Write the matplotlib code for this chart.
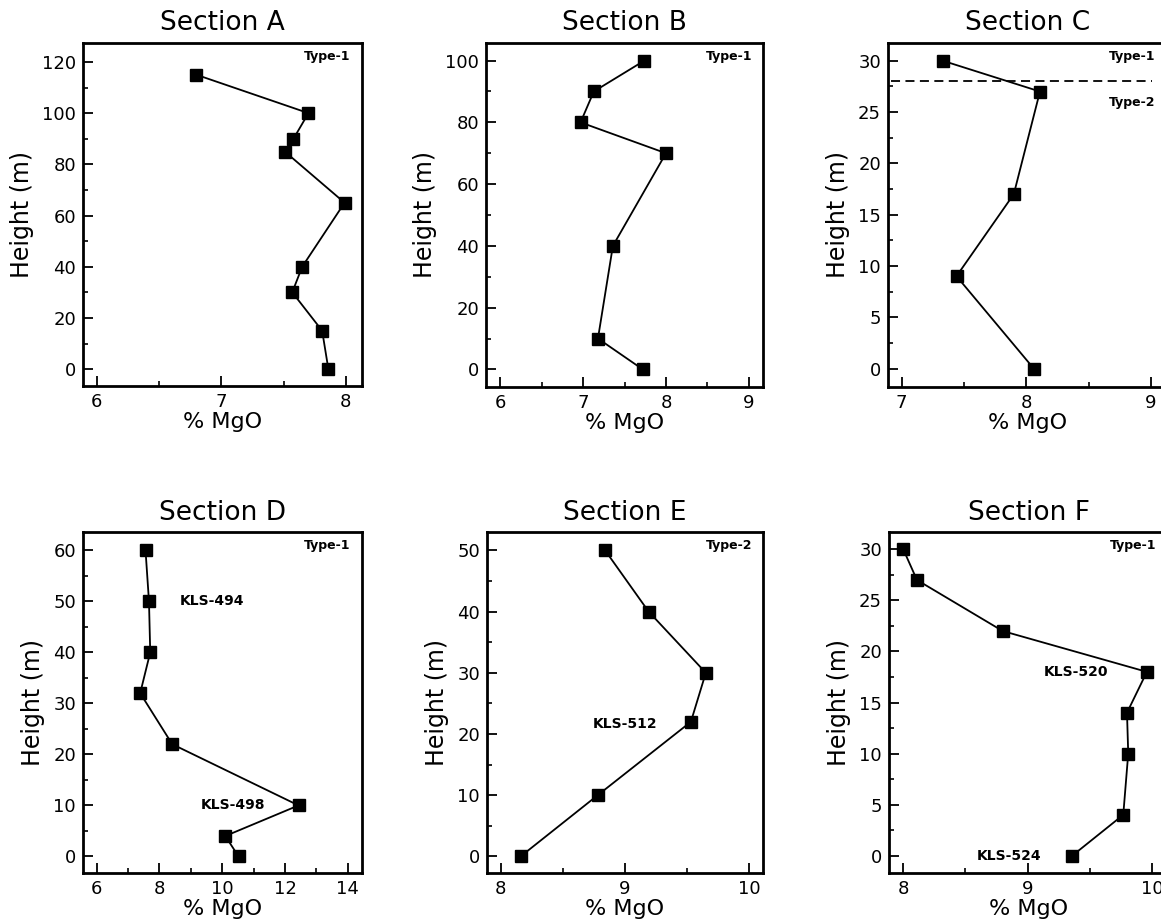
import matplotlib
matplotlib.use("Agg")
import matplotlib.pyplot as plt
from matplotlib.ticker import MultipleLocator

plt.rcParams['font.family'] = ['DejaVu Sans']

# ---- data (x = % MgO, y = height in m) ----
a_mgo = [6.80, 7.70, 7.58, 7.51, 7.99, 7.65, 7.57, 7.81, 7.86]
a_h = [115, 100, 90, 85, 65, 40, 30, 15, 0]

b_mgo = [7.74, 7.13, 6.97, 8.00, 7.36, 7.18, 7.72]
b_h = [100, 90, 80, 70, 40, 10, 0]

c_mgo = [7.33, 8.11, 7.90, 7.44, 8.06]
c_h = [30, 27, 17, 9, 0]
c_boundary = 28

d_mgo = [7.56, 7.67, 7.71, 7.39, 8.41, 12.43, 10.10, 10.52]
d_h = [60, 50, 40, 32, 22, 10, 4, 0]

e_mgo = [8.84, 9.19, 9.65, 9.53, 8.78, 8.16]
e_h = [50, 40, 30, 22, 10, 0]

f_mgo = [8.00, 8.11, 8.80, 9.96, 9.80, 9.81, 9.77, 9.36]
f_h = [30, 27, 22, 18, 14, 10, 4, 0]

titles = ["Section A", "Section B", "Section C", "Section D", "Section E", "Section F"]
type_labels = ["Type-1", "Type-1", "Type-1", "Type-1", "Type-2", "Type-1"]

W, H = 1161, 921
fig = plt.figure(figsize=(W / 100, H / 100), dpi=100)


def box(l, r, t, b):
    return [l / W, (H - b) / H, (r - l) / W, (b - t) / H]


panels = [
    dict(rect=box(83, 362, 43, 386), x=a_mgo, y=a_h, xlim=(5.89, 8.13), ylim=(-6.6, 127.4),
         xmaj=1, xmin=0.5, ymaj=20, ymin=10),
    dict(rect=box(486, 763, 43, 387), x=b_mgo, y=b_h, xlim=(5.83, 9.17), ylim=(-5.7, 105.7),
         xmaj=1, xmin=0.5, ymaj=20, ymin=10),
    dict(rect=box(888, 1167, 43, 387), x=c_mgo, y=c_h, xlim=(6.89, 9.13), ylim=(-1.8, 31.73),
         xmaj=1, xmin=0.5, ymaj=5, ymin=2.5),
    dict(rect=box(83, 362, 532, 873), x=d_mgo, y=d_h, xlim=(5.57, 14.45), ylim=(-3.25, 63.6),
         xmaj=2, xmin=1, ymaj=10, ymin=5),
    dict(rect=box(487, 763, 532, 873), x=e_mgo, y=e_h, xlim=(7.89, 10.11), ylim=(-2.7, 53.0),
         xmaj=1, xmin=0.5, ymaj=10, ymin=5),
    dict(rect=box(889, 1168, 532, 873), x=f_mgo, y=f_h, xlim=(7.885, 10.13), ylim=(-1.7, 31.7),
         xmaj=1, xmin=0.5, ymaj=5, ymin=2.5),
]

axes = []
for i, p in enumerate(panels):
    ax = fig.add_axes(p["rect"])
    axes.append(ax)
    ax.plot(p["x"], p["y"], color="black", lw=1.3, marker="s", ms=8.5,
            mfc="black", mec="black", clip_on=False, zorder=3)
    ax.set_xlim(*p["xlim"])
    ax.set_ylim(*p["ylim"])
    ax.xaxis.set_major_locator(MultipleLocator(p["xmaj"]))
    ax.xaxis.set_minor_locator(MultipleLocator(p["xmin"]))
    ax.yaxis.set_major_locator(MultipleLocator(p["ymaj"]))
    ax.yaxis.set_minor_locator(MultipleLocator(p["ymin"]))
    ax.tick_params(which="major", direction="in", length=7, width=1.3, labelsize=13, pad=5)
    ax.tick_params(which="minor", direction="in", length=3.5, width=1.2)
    for s in ax.spines.values():
        s.set_linewidth(2.0)
    ax.set_title(titles[i], fontsize=19, pad=9)
    ax.set_ylabel("Height (m)", fontsize=17, labelpad=6)
    ax.set_xlabel("% MgO", fontsize=16, labelpad=1)
    ax.text(0.96, 0.96, type_labels[i], transform=ax.transAxes, ha="right", va="center",
            fontsize=9, fontweight="bold")

# Section C: boundary between Type-1 and Type-2
axC = axes[2]
axC.axhline(c_boundary, xmin=0.01, xmax=0.946, color="black", lw=1.3, ls=(0, (5, 3)))
axC.text(0.957, 0.827, "Type-2", transform=axC.transAxes, ha="right", va="center",
         fontsize=9, fontweight="bold")

# sample labels
axes[3].text(8.65, 50, "KLS-494", fontsize=10, fontweight="bold", va="center", ha="left")
axes[3].text(9.32, 10, "KLS-498", fontsize=10, fontweight="bold", va="center", ha="left")
axes[4].text(8.74, 21.7, "KLS-512", fontsize=10, fontweight="bold", va="center", ha="left")
axes[5].text(9.13, 18, "KLS-520", fontsize=10, fontweight="bold", va="center", ha="left")
axes[5].text(8.59, 0, "KLS-524", fontsize=10, fontweight="bold", va="center", ha="left")

fig.savefig("out.png", dpi=100)
